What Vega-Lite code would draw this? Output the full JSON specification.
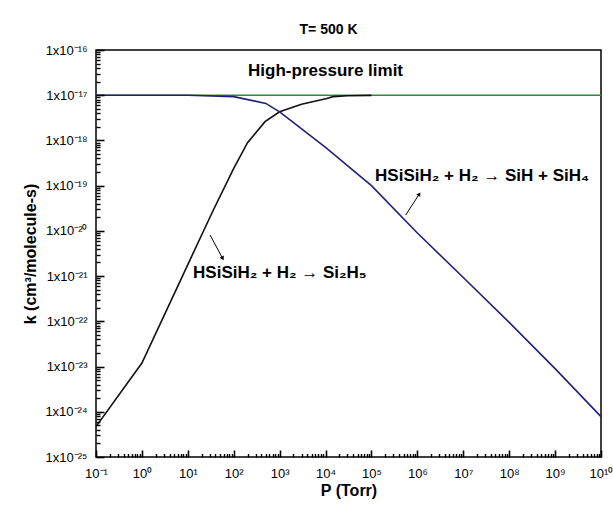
{
  "$schema": "https://vega.github.io/schema/vega-lite/v6.json",
  "width": 505,
  "height": 407,
  "autosize": "none",
  "padding": {"left": 96, "top": 50, "right": 12, "bottom": 49},
  "title": {"text": "T= 500 K", "font": "Liberation Sans", "fontSize": 14, "fontWeight": "bold", "color": "black", "anchor": "middle", "dx": -20, "offset": 7},
  "config": {"view": {"stroke": "black", "strokeWidth": 1.5}, "font": "Liberation Sans"},
  "data": {"values": [
    {"s": "limit", "P": 0.1, "k": 1e-17},
    {"s": "limit", "P": 1e10, "k": 1e-17},
    {"s": "si2h5", "P": 0.1, "k": 4.7e-25},
    {"s": "si2h5", "P": 1, "k": 1.2e-23},
    {"s": "si2h5", "P": 10, "k": 1.8e-21},
    {"s": "si2h5", "P": 36, "k": 2.9e-20},
    {"s": "si2h5", "P": 100, "k": 2.4e-19},
    {"s": "si2h5", "P": 200, "k": 8.9e-19},
    {"s": "si2h5", "P": 480, "k": 2.6e-18},
    {"s": "si2h5", "P": 1000, "k": 4.3e-18},
    {"s": "si2h5", "P": 3000, "k": 6.3e-18},
    {"s": "si2h5", "P": 10700, "k": 8.5e-18},
    {"s": "si2h5", "P": 14500, "k": 9.3e-18},
    {"s": "si2h5", "P": 30000, "k": 9.7e-18},
    {"s": "si2h5", "P": 100000, "k": 9.9e-18},
    {"s": "sih", "P": 0.1, "k": 1e-17},
    {"s": "sih", "P": 1, "k": 1e-17},
    {"s": "sih", "P": 10, "k": 1e-17},
    {"s": "sih", "P": 100, "k": 9.3e-18},
    {"s": "sih", "P": 500, "k": 6.6e-18},
    {"s": "sih", "P": 1000, "k": 4.3e-18},
    {"s": "sih", "P": 10000, "k": 7.0e-19},
    {"s": "sih", "P": 100000, "k": 1.0e-19},
    {"s": "sih", "P": 1000000, "k": 9.0e-21},
    {"s": "sih", "P": 10000000, "k": 9.3e-22},
    {"s": "sih", "P": 100000000, "k": 9.5e-23},
    {"s": "sih", "P": 1000000000, "k": 9.0e-24},
    {"s": "sih", "P": 10000000000, "k": 7.8e-25},
    {"s": "textc", "P": 10000, "k": 3.5e-17, "label": "High-pressure limit"},
    {"s": "textl", "P": 13, "k": 1.17e-21, "label": "HSiSiH₂ + H₂ → Si₂H₅"},
    {"s": "textl", "P": 120000, "k": 1.6e-19, "label": "HSiSiH₂ + H₂ → SiH + SiH₄"},
    {"s": "arrow1", "P": 30.5, "k": 8.1e-21, "P2": 57.5, "k2": 2.45e-21},
    {"s": "arrow2", "P": 556000, "k": 2.24e-20, "P2": 1100000, "k2": 6.5e-20}
  ]},
  "resolve": {"axis": {"x": "independent", "y": "independent"}},
  "layer": [
    {
      "transform": [{"filter": "datum.s === 'limit'"}],
      "mark": {"type": "line", "opacity": 0},
      "encoding": {
        "x": {"field": "P", "type": "quantitative",
          "scale": {"type": "log", "domain": [0.1, 10000000000], "nice": false},
          "axis": {"orient": "bottom", "title": null, "labels": false, "domain": false, "grid": false, "offset": -3.5, "zindex": 1,
            "values": [0.2,0.3,0.4,0.5,0.6,0.7,0.8,0.9,2,3,4,5,6,7,8,9,20,30,40,50,60,70,80,90,200,300,400,500,600,700,800,900,2000,3000,4000,5000,6000,7000,8000,9000,20000,30000,40000,50000,60000,70000,80000,90000,200000,300000,400000,500000,600000,700000,800000,900000,2000000,3000000,4000000,5000000,6000000,7000000,8000000,9000000,20000000,30000000,40000000,50000000,60000000,70000000,80000000,90000000,200000000,300000000,400000000,500000000,600000000,700000000,800000000,900000000,2000000000,3000000000,4000000000,5000000000,6000000000,7000000000,8000000000,9000000000],
            "tickSize": 3.5, "tickColor": "black", "tickWidth": 1.4}},
        "y": {"field": "k", "type": "quantitative",
          "scale": {"type": "log", "domain": [1e-25, 1e-16], "nice": false},
          "axis": {"orient": "left", "title": null, "labels": false, "domain": false, "grid": false, "offset": -4, "zindex": 1,
            "values": [2e-25,3e-25,4e-25,5e-25,6e-25,7e-25,8e-25,9e-25,2e-24,3e-24,4e-24,5e-24,6e-24,7e-24,8e-24,9e-24,2e-23,3e-23,4e-23,5e-23,6e-23,7e-23,8e-23,9e-23,2e-22,3e-22,4e-22,5e-22,6e-22,7e-22,8e-22,9e-22,2e-21,3e-21,4e-21,5e-21,6e-21,7e-21,8e-21,9e-21,2e-20,3e-20,4e-20,5e-20,6e-20,7e-20,8e-20,9e-20,2e-19,3e-19,4e-19,5e-19,6e-19,7e-19,8e-19,9e-19,2e-18,3e-18,4e-18,5e-18,6e-18,7e-18,8e-18,9e-18,2e-17,3e-17,4e-17,5e-17,6e-17,7e-17,8e-17,9e-17],
            "tickSize": 4, "tickColor": "black", "tickWidth": 1.4}}
      }
    },
    {
      "encoding": {
        "x": {"field": "P", "type": "quantitative",
          "scale": {"type": "log", "domain": [0.1, 10000000000], "nice": false},
          "axis": {
            "orient": "bottom",
            "title": "P (Torr)",
            "values": [0.1,1,10,100,1000,10000,100000,1000000,10000000,100000000,1000000000,10000000000],
            "labelExpr": "['10⁻¹','10⁰','10¹','10²','10³','10⁴','10⁵','10⁶','10⁷','10⁸','10⁹','10¹⁰'][round(log(datum.value)/LN10)+1]",
            "offset": -7, "tickSize": 7, "labelPadding": 10, "domain": false, "zindex": 1,
            "labelOverlap": false, "labelFlush": false, "grid": false,
            "tickColor": "black", "tickWidth": 1.6,
            "labelColor": "black", "labelFont": "Liberation Sans", "labelFontSize": 13,
            "titleFont": "Liberation Sans", "titleFontSize": 16, "titleFontWeight": "bold", "titleColor": "black", "titlePadding": 2
          }},
        "y": {"field": "k", "type": "quantitative",
          "scale": {"type": "log", "domain": [1e-25, 1e-16], "nice": false},
          "axis": {
            "orient": "left",
            "title": "k (cm³/molecule-s)",
            "values": [1e-25,1e-24,1e-23,1e-22,1e-21,1e-20,1e-19,1e-18,1e-17,1e-16],
            "labelExpr": "['1x10⁻²⁵','1x10⁻²⁴','1x10⁻²³','1x10⁻²²','1x10⁻²¹','1x10⁻²⁰','1x10⁻¹⁹','1x10⁻¹⁸','1x10⁻¹⁷','1x10⁻¹⁶'][round(log(datum.value)/LN10)+25]",
            "offset": -8, "tickSize": 8, "labelPadding": 9, "domain": false, "zindex": 1,
            "labelOverlap": false, "labelFlush": false, "grid": false,
            "tickColor": "black", "tickWidth": 1.6,
            "labelColor": "black", "labelFont": "Liberation Sans", "labelFontSize": 13,
            "titleFont": "Liberation Sans", "titleFontSize": 16, "titleFontWeight": "bold", "titleColor": "black", "titlePadding": 6
          }}
      },
      "layer": [
        {"transform": [{"filter": "datum.s === 'limit'"}], "mark": {"type": "line", "color": "#2e8b3e", "strokeWidth": 1.6}},
        {"transform": [{"filter": "datum.s === 'si2h5'"}], "mark": {"type": "line", "color": "#111111", "strokeWidth": 1.6}},
        {"transform": [{"filter": "datum.s === 'sih'"}], "mark": {"type": "line", "color": "#20207a", "strokeWidth": 1.6}},
        {"transform": [{"filter": "datum.s === 'textc'"}], "mark": {"type": "text", "font": "Liberation Sans", "fontSize": 17, "fontWeight": "bold", "align": "center", "baseline": "middle", "color": "black"}, "encoding": {"text": {"field": "label"}}},
        {"transform": [{"filter": "datum.s === 'textl'"}], "mark": {"type": "text", "font": "Liberation Sans", "fontSize": 17, "fontWeight": "bold", "align": "left", "baseline": "middle", "color": "black"}, "encoding": {"text": {"field": "label"}}},
        {"transform": [{"filter": "datum.s === 'arrow1' || datum.s === 'arrow2'"}], "mark": {"type": "rule", "color": "black", "strokeWidth": 1}, "encoding": {"x2": {"field": "P2"}, "y2": {"field": "k2"}}},
        {"transform": [{"filter": "datum.s === 'arrow1'"}], "mark": {"type": "point", "shape": "triangle-up", "filled": true, "color": "black", "size": 22, "angle": 151, "opacity": 1}, "encoding": {"x": {"field": "P2", "type": "quantitative"}, "y": {"field": "k2", "type": "quantitative"}}},
        {"transform": [{"filter": "datum.s === 'arrow2'"}], "mark": {"type": "point", "shape": "triangle-up", "filled": true, "color": "black", "size": 22, "angle": 33, "opacity": 1}, "encoding": {"x": {"field": "P2", "type": "quantitative"}, "y": {"field": "k2", "type": "quantitative"}}}
      ]
    }
  ]
}
